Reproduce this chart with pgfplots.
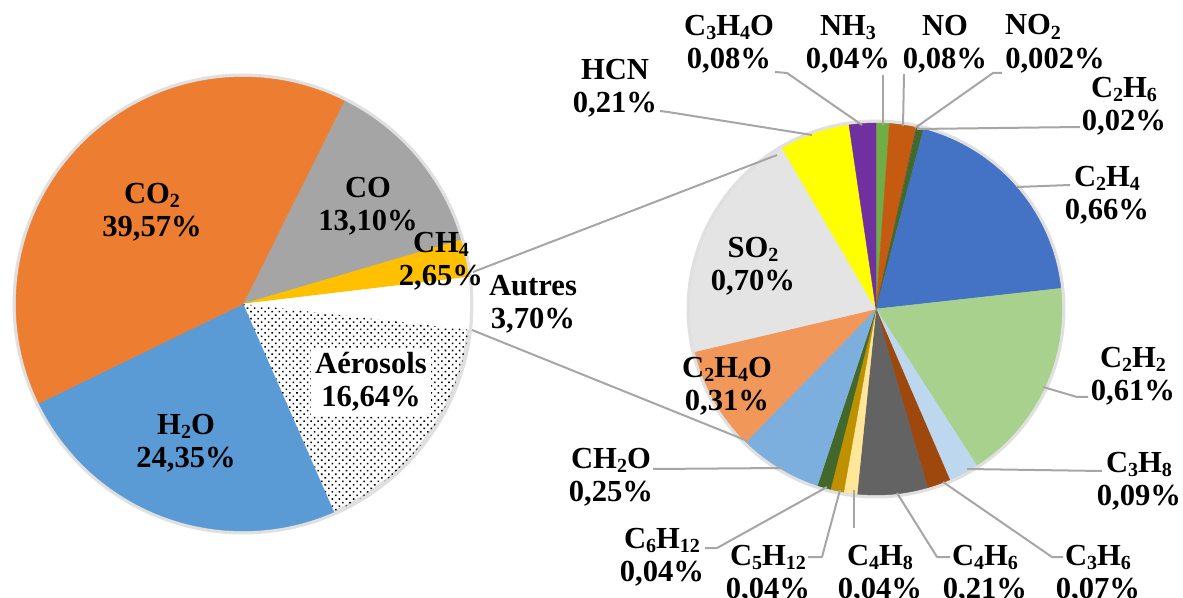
\documentclass[border=0pt]{standalone}
\usepackage{pgfplots}
\pgfplotsset{compat=1.18}
\usepackage{fontspec}
\setmainfont{Liberation Serif}
\usetikzlibrary{patterns.meta}

\definecolor{cCOtwo}{HTML}{ED7D31}
\definecolor{cCO}{HTML}{A5A5A5}
\definecolor{cCHfour}{HTML}{FFC000}
\definecolor{cHtwoO}{HTML}{5B9BD5}
\definecolor{cNHthree}{HTML}{70AD47}
\definecolor{cNO}{HTML}{C55A11}
\definecolor{cNOtwo}{HTML}{264478}
\definecolor{cCtwoHsix}{HTML}{3F6A2A}
\definecolor{cCtwoHfour}{HTML}{4472C4}
\definecolor{cCtwoHtwo}{HTML}{A9D18E}
\definecolor{cCthreeHeight}{HTML}{BDD7EE}
\definecolor{cCthreeHsix}{HTML}{9E480E}
\definecolor{cCfourHsix}{HTML}{636363}
\definecolor{cCfourHeight}{HTML}{FFE699}
\definecolor{cCfiveH}{HTML}{BF9000}
\definecolor{cCsixH}{HTML}{43682B}
\definecolor{cCHtwoO}{HTML}{7CAFDD}
\definecolor{cCtwoHfourO}{HTML}{F1975A}
\definecolor{cSOtwo}{HTML}{E4E4E4}
\definecolor{cHCN}{HTML}{FFFF00}
\definecolor{cCthreeHfourO}{HTML}{7030A0}
\definecolor{leader}{HTML}{A6A6A6}

\tikzset{lbl/.style={font=\fontsize{15.3}{16.5}\selectfont\bfseries, align=center, inner sep=0pt}}

\newcommand\cumang{0}
% #1 cx, #2 cy, #3 r, #4 value, #5 total, #6 style
\newcommand\pieslice[6]{%
  \pgfmathsetmacro\sa{\cumang}%
  \pgfmathsetmacro\sb{\cumang+#4*360/#5}%
  \edef\temp{\noexpand\addplot[#6, domain=\sa:\sb, samples=80, variable=\noexpand\t]
    ({#1+#3*sin(\noexpand\t)}, {#2-#3*cos(\noexpand\t)}) -- (axis cs:#1,#2) -- cycle;}%
  \temp
  \global\let\cumang\sb
}
\newcommand\sub[1]{\raisebox{-0.32ex}{\fontsize{10}{10}\selectfont\bfseries #1}}

\begin{document}
\begin{tikzpicture}
\begin{axis}[
  x=0.5pt, y=0.5pt,
  xmin=0, xmax=1183, ymin=0, ymax=598,
  y dir=reverse,
  hide axis, clip=false,
  every axis plot/.append style={line join=round},
  ld/.style={leader, line width=1pt, no markers},
]
% ---------- outer shadows ----------
\addplot[draw=black!12, line width=2.5pt, domain=0:360, samples=180, variable=\t] ({243+228*sin(t)}, {304-228*cos(t)});
\addplot[draw=black!12, line width=2.5pt, domain=0:360, samples=180, variable=\t] ({876+187*sin(t)}, {309-187*cos(t)});

% ---------- left pie (percent) ----------
\gdef\cumang{26.5}
\pieslice{243}{304}{227}{13.10}{100.01}{fill=cCO, draw=cCO, line width=0.2pt}
\pieslice{243}{304}{227}{2.65}{100.01}{fill=cCHfour, draw=cCHfour, line width=0.2pt}
\pieslice{243}{304}{227}{3.70}{100.01}{fill=white, draw=white, line width=0.2pt}
\pieslice{243}{304}{227}{16.64}{100.01}{fill=white, draw=none, pattern={Dots[distance=2.5pt, radius=0.55pt, angle=45]}}
\pieslice{243}{304}{227}{24.35}{100.01}{fill=cHtwoO, draw=cHtwoO, line width=0.2pt}
\pieslice{243}{304}{227}{39.57}{100.01}{fill=cCOtwo, draw=cCOtwo, line width=0.2pt}

% ---------- right pie (Autres) ----------
\gdef\cumang{0}
\pieslice{876}{309}{186}{0.04}{3.452}{fill=cNHthree, draw=cNHthree, line width=0.2pt}
\pieslice{876}{309}{186}{0.08}{3.452}{fill=cNO, draw=cNO, line width=0.2pt}
\pieslice{876}{309}{186}{0.002}{3.452}{fill=cNOtwo, draw=none}
\pieslice{876}{309}{186}{0.02}{3.452}{fill=cCtwoHsix, draw=cCtwoHsix, line width=0.2pt}
\pieslice{876}{309}{186}{0.66}{3.452}{fill=cCtwoHfour, draw=cCtwoHfour, line width=0.2pt}
\pieslice{876}{309}{186}{0.61}{3.452}{fill=cCtwoHtwo, draw=cCtwoHtwo, line width=0.2pt}
\pieslice{876}{309}{186}{0.09}{3.452}{fill=cCthreeHeight, draw=cCthreeHeight, line width=0.2pt}
\pieslice{876}{309}{186}{0.07}{3.452}{fill=cCthreeHsix, draw=cCthreeHsix, line width=0.2pt}
\pieslice{876}{309}{186}{0.21}{3.452}{fill=cCfourHsix, draw=cCfourHsix, line width=0.2pt}
\pieslice{876}{309}{186}{0.04}{3.452}{fill=cCfourHeight, draw=cCfourHeight, line width=0.2pt}
\pieslice{876}{309}{186}{0.04}{3.452}{fill=cCfiveH, draw=cCfiveH, line width=0.2pt}
\pieslice{876}{309}{186}{0.04}{3.452}{fill=cCsixH, draw=cCsixH, line width=0.2pt}
\pieslice{876}{309}{186}{0.25}{3.452}{fill=cCHtwoO, draw=cCHtwoO, line width=0.2pt}
\pieslice{876}{309}{186}{0.31}{3.452}{fill=cCtwoHfourO, draw=cCtwoHfourO, line width=0.2pt}
\pieslice{876}{309}{186}{0.70}{3.452}{fill=cSOtwo, draw=cSOtwo, line width=0.2pt}
\pieslice{876}{309}{186}{0.21}{3.452}{fill=cHCN, draw=cHCN, line width=0.2pt}
\pieslice{876}{309}{186}{0.08}{3.452}{fill=cCthreeHfourO, draw=cCthreeHfourO, line width=0.2pt}

% ---------- connector lines ----------
\addplot[ld] coordinates {(473,272) (777,155)};
\addplot[ld] coordinates {(472,330) (750,442)};

% ---------- leader lines ----------
\addplot[ld] coordinates {(660,111) (668,112) (812,135)};
\addplot[ld] coordinates {(775,72) (787,73) (862,125)};
\addplot[ld] coordinates {(883,75) (883,125)};
\addplot[ld] coordinates {(904,74) (903,126)};
\addplot[ld] coordinates {(1002,73) (993,73) (915,128)};
\addplot[ld] coordinates {(1080,127) (917,129)};
\addplot[ld] coordinates {(1070,185) (1017,187)};
\addplot[ld] coordinates {(1088,397) (1077,397) (1043,387)};
\addplot[ld] coordinates {(1102,471) (967,469)};
\addplot[ld] coordinates {(653,469) (783,468)};
\addplot[ld] coordinates {(705,548) (717,548) (827,487)};
\addplot[ld] coordinates {(808,557) (822,557) (840,490)};
\addplot[ld] coordinates {(854,528) (854,490)};
\addplot[ld] coordinates {(950,557) (937,557) (897,493)};
\addplot[ld] coordinates {(1063,557) (1052,557) (943,482)};

% ---------- labels ----------
\node[lbl] at (axis cs:152,212) {CO\sub{2}\\39,57\%};
\node[lbl] at (axis cs:368,206) {CO\\13,10\%};
\node[lbl] at (axis cs:441,261) {CH\sub{4}\\2,65\%};
\node[lbl] at (axis cs:533,304) {Autres\\3,70\%};
\node[lbl, fill=white, inner sep=2pt] at (axis cs:371,382) {Aérosols\\16,64\%};
\node[lbl] at (axis cs:186,443) {H\sub{2}O\\24,35\%};

\node[lbl] at (axis cs:753,266) {SO\sub{2}\\0,70\%};
\node[lbl] at (axis cs:727,386) {C\sub{2}H\sub{4}O\\0,31\%};
\node[lbl] at (axis cs:615,88) {HCN\\0,21\%};
\node[lbl] at (axis cs:729,44) {C\sub{3}H\sub{4}O\\0,08\%};
\node[lbl] at (axis cs:848,44) {NH\sub{3}\\0,04\%};
\node[lbl] at (axis cs:945,44) {NO\\0,08\%};
\node[lbl] at (axis cs:1033,27) {NO\sub{2}};
\node[lbl] at (axis cs:1055,61) {0,002\%};
\node[lbl] at (axis cs:1124,106) {C\sub{2}H\sub{6}\\0,02\%};
\node[lbl] at (axis cs:1107,195) {C\sub{2}H\sub{4}\\0,66\%};
\node[lbl] at (axis cs:1133,376) {C\sub{2}H\sub{2}\\0,61\%};
\node[lbl] at (axis cs:1139,481) {C\sub{3}H\sub{8}\\0,09\%};
\node[lbl] at (axis cs:611,477) {CH\sub{2}O\\0,25\%};
\node[lbl] at (axis cs:662,557) {C\sub{6}H\sub{12}\\0,04\%};
\node[lbl] at (axis cs:768,574) {C\sub{5}H\sub{12}\\0,04\%};
\node[lbl] at (axis cs:880,574) {C\sub{4}H\sub{8}\\0,04\%};
\node[lbl] at (axis cs:985,574) {C\sub{4}H\sub{6}\\0,21\%};
\node[lbl] at (axis cs:1098,574) {C\sub{3}H\sub{6}\\0,07\%};
\end{axis}
\pgfresetboundingbox
\path (current axis.south west) rectangle (current axis.north east);
\end{tikzpicture}
\end{document}
